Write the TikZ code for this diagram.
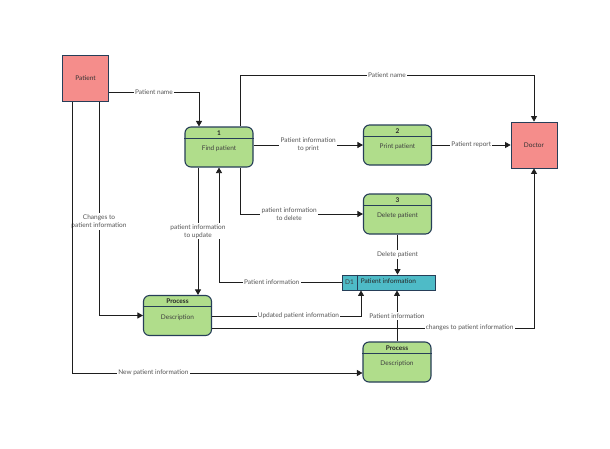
\documentclass[tikz,border=0pt]{standalone}
\usepackage{fontspec}
\setmainfont{Lato}
\usetikzlibrary{arrows.meta,calc,positioning}
\definecolor{extfill}{RGB}{245,141,139}
\definecolor{procfill}{RGB}{176,221,139}
\definecolor{storefill}{RGB}{78,187,199}
\definecolor{boxline}{RGB}{38,62,88}
\definecolor{lbltext}{RGB}{85,85,85}
\definecolor{flowline}{RGB}{30,30,30}

\begin{document}
\begin{tikzpicture}
	[x=1pt,y=-1pt,
	every node/.style={font=\fontsize{6.5}{8}\selectfont},
	ext/.style={draw=boxline,fill=extfill,line width=0.8pt,minimum size=46pt,inner sep=0pt,text=black!80},
	proc/.style={draw=boxline,fill=procfill,line width=1.1pt,rounded corners=6pt,minimum width=68pt,minimum height=40pt,inner sep=0pt},
	procline/.style={draw=boxline,line width=1pt},
	ptitle/.style={font=\fontsize{6.5}{8}\selectfont\bfseries,text=black!85,inner sep=0pt},
	pdesc/.style={text=black!75,inner sep=0pt},
	store/.style={draw=boxline,fill=storefill,line width=0.9pt,minimum width=93pt,minimum height=15pt,inner sep=0pt},
	flow/.style={draw=flowline,line width=0.8pt,-{Triangle[length=5.5pt,width=6pt]}},
	lbl/.style={fill=white,text=lbltext,inner sep=1.2pt,align=center}]
	\useasboundingbox (0,0) rectangle (610,448);

	% external entities
	\node[ext] (pat) at (85.5,78.5) {Patient};
	\node[ext] (dr) at (534,145) {Doctor};

	% processes
	\foreach \n/\x/\y/\t/\d in {p1/219/147/1/Find patient,p2/397.5/145/2/Print patient,p3/397.5/214/3/Delete patient,pa/177.5/315.5/Process/Description,pb/397/362/Process/Description}
	{
		\node[proc] (\n) at (\x,\y) {};
		\draw[procline] ([yshift=-12pt]\n.north west) -- ([yshift=-12pt]\n.north east);
		\node[ptitle] (\n-t) at ([yshift=-6.5pt]\n.north) {\t};
		\node[pdesc] (\n-d) at ([yshift=-22.5pt]\n.north) {\d};
	}

	% data store
	\node[store] (d1) at (388.5,282.5) {};
	\draw[draw=boxline,line width=0.9pt] ([xshift=16pt]d1.north west) -- ([xshift=16pt]d1.south west);
	\node[inner sep=0pt,text=black!75] (d1-id) at ([xshift=8pt]d1.west) {D1};
	\node[inner sep=0pt,text=black!85,anchor=west] (d1-name) at ([xshift=19pt,yshift=1.5pt]d1.west) {Patient information};

	% flows
	\draw[flow] (pat.east |- 0,92) -| node[lbl,pos=0.25]{Patient name} (p1.north -| 199,0);
	\draw[flow] (p1.north -| 240,0) -- (240,75) -- node[lbl]{Patient name} (dr.north |- 0,75) -- (dr.north);
	\draw[flow] (p1.east |- p2.west) -- node[lbl]{Patient information\\to print} (p2.west);
	\draw[flow] (p2.east) -- node[lbl]{Patient report} (dr.west |- p2.east);
	\draw[flow] (p1.south -| 240,0) |- node[lbl,pos=0.7]{patient information\\to delete} (p3.west);
	\draw[flow] (d1.west) -- node[lbl,pos=0.57]{Patient information} (d1.west -| p1.south) -- (p1.south);
	\draw[flow] (p1.south -| 198,0) -- node[lbl]{patient information\\to update} (pa.north -| 198,0);
	\draw[flow] (pat.south -| 99,0) |- node[lbl,pos=0.28]{Changes to\\patient information} (pa.west);
	\draw[flow] (pat.south -| 72,0) |- node[lbl,pos=0.64]{New patient information} (pb.west |- 0,373);
	\draw[flow] (pa.east |- 0,316) -| node[lbl,pos=0.29]{Updated patient information} (d1.south -| 361,0);
	\draw[flow] (p3.south) -- node[lbl]{Delete patient} (d1.north -| p3.south);
	\draw[flow] (pb.north) -- node[lbl]{Patient information} (d1.south -| pb.north);
	\draw[flow] (pa.east |- 0,328) -| node[lbl,pos=0.4]{changes to patient information} (dr.south);
\end{tikzpicture}
\end{document}
